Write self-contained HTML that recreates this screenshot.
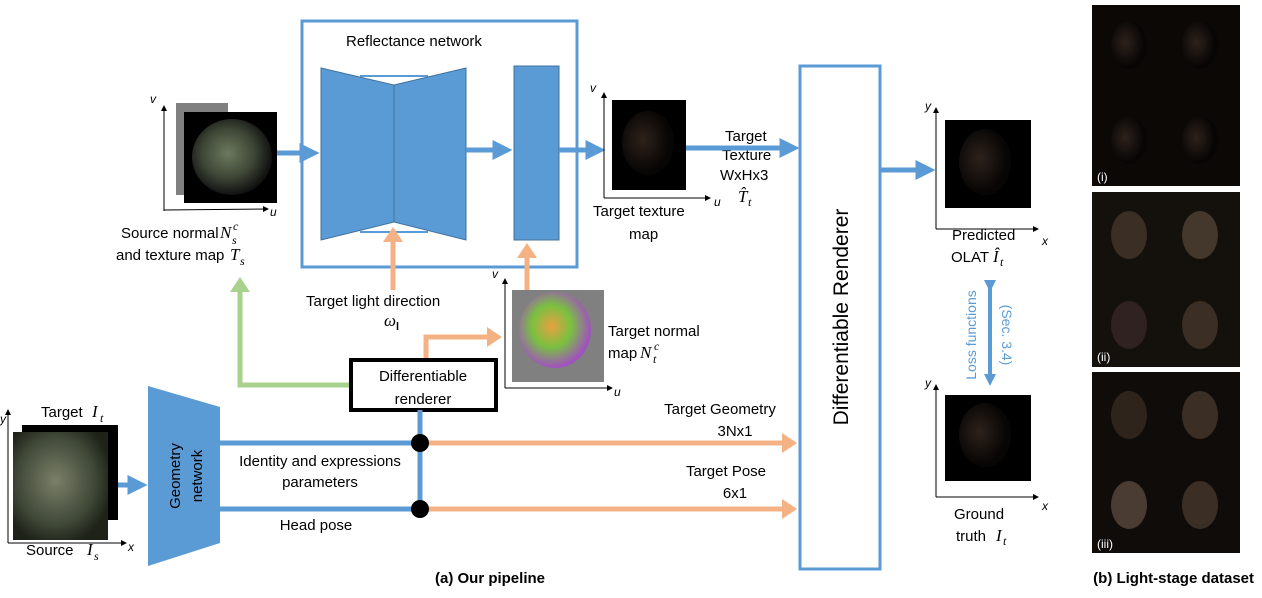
<!DOCTYPE html>
<html><head><meta charset="utf-8"><style>
html,body{margin:0;padding:0;background:#fff;}
svg text{font-family:"Liberation Sans",sans-serif;font-size:14px;fill:#000;}
.it{font-family:"Liberation Serif",serif;font-style:italic;font-size:17px;}
</style></head><body>
<svg width="1262" height="593" viewBox="0 0 1262 593" xmlns="http://www.w3.org/2000/svg">
<defs>
<radialGradient id="face" cx="45%" cy="45%" r="55%"><stop offset="0" stop-color="#6d7a5e"/><stop offset="0.6" stop-color="#3d4535"/><stop offset="1" stop-color="#111"/></radialGradient>
<radialGradient id="dark" cx="40%" cy="45%" r="50%"><stop offset="0" stop-color="#2e221b"/><stop offset="1" stop-color="#080605"/></radialGradient>
<radialGradient id="nrm" cx="45%" cy="45%" r="55%"><stop offset="0" stop-color="#e8a040"/><stop offset="0.5" stop-color="#7ac040"/><stop offset="1" stop-color="#a050c0"/></radialGradient>
<radialGradient id="src" cx="45%" cy="45%" r="60%"><stop offset="0" stop-color="#7a8068"/><stop offset="0.7" stop-color="#3e4636"/><stop offset="1" stop-color="#1e2218"/></radialGradient>
<marker id="ab" markerWidth="4" markerHeight="4" refX="2.5" refY="2" orient="auto"><path d="M0,0 L4,2 L0,4z" fill="#5b9bd5"/></marker>
<marker id="ab2" markerWidth="3" markerHeight="3" refX="1.5" refY="1.5" orient="auto"><path d="M0,0 L3,1.5 L0,3z" fill="#5b9bd5"/></marker>
<marker id="ao" markerWidth="3" markerHeight="4" refX="2" refY="2" orient="auto"><path d="M0,0 L3,2 L0,4z" fill="#f4b183"/></marker>
<marker id="ag" markerWidth="3" markerHeight="4" refX="2" refY="2" orient="auto"><path d="M0,0 L3,2 L0,4z" fill="#a9d18e"/></marker>
<marker id="ak" markerWidth="6" markerHeight="6" refX="5" refY="3" orient="auto"><path d="M0,0 L6,3 L0,6z" fill="#000"/></marker>
</defs>

<rect x="302" y="21" width="275" height="246" fill="none" stroke="#5b9bd5" stroke-width="3"/>
<text x="346" y="46" style="font-size:15px">Reflectance network</text>
<line x1="360" y1="76" x2="428" y2="76" stroke="#5b9bd5" stroke-width="2"/>
<line x1="360" y1="232" x2="428" y2="232" stroke="#5b9bd5" stroke-width="2"/>
<polygon points="321,68 394,85 394,222 321,240" fill="#5b9bd5" stroke="#41719c" stroke-width="1"/>
<polygon points="394,85 466,68 466,240 394,222" fill="#5b9bd5" stroke="#41719c" stroke-width="1"/>
<rect x="514" y="66" width="45" height="174" fill="#5b9bd5" stroke="#41719c" stroke-width="1"/>

<rect x="176" y="103" width="52" height="92" fill="#808080"/>
<rect x="184" y="112" width="93" height="91" fill="#000"/>
<ellipse cx="232" cy="157" rx="40" ry="38" fill="url(#face)"/>
<line x1="164" y1="211" x2="164" y2="106" stroke="#000" marker-end="url(#ak)"/>
<line x1="164" y1="210" x2="268" y2="209" stroke="#000" marker-end="url(#ak)"/>
<text x="150" y="103" style="font-size:12px;font-style:italic">v</text>
<text x="270" y="216" style="font-size:12px;font-style:italic">u</text>
<text x="121" y="238" style="font-size:15px">Source normal</text><text x="220" y="238" class="it">N</text><text x="233" y="230" class="it" style="font-size:12px">c</text><text x="232" y="244" class="it" style="font-size:12px">s</text>
<text x="116" y="260" style="font-size:15px">and texture map</text><text x="230" y="260" class="it">T</text><text x="240" y="265" class="it" style="font-size:12px">s</text>

<line x1="277" y1="153" x2="312" y2="153" stroke="#5b9bd5" stroke-width="5" marker-end="url(#ab)"/>
<line x1="466" y1="150" x2="505" y2="150" stroke="#5b9bd5" stroke-width="5" marker-end="url(#ab)"/>
<line x1="559" y1="150" x2="598" y2="150" stroke="#5b9bd5" stroke-width="5" marker-end="url(#ab)"/>

<rect x="612" y="100" width="74" height="90" fill="#000"/>
<ellipse cx="648" cy="143" rx="26" ry="32" fill="url(#dark)"/>
<line x1="604" y1="198" x2="604" y2="93" stroke="#000" marker-end="url(#ak)"/>
<line x1="604" y1="198" x2="710" y2="198" stroke="#000" marker-end="url(#ak)"/>
<text x="590" y="92" style="font-size:12px;font-style:italic">v</text>
<text x="714" y="206" style="font-size:12px;font-style:italic">u</text>
<text x="593" y="216" style="font-size:15px">Target texture</text>
<text x="629" y="239" style="font-size:15px">map</text>
<text x="725" y="141" style="font-size:15px">Target</text>
<text x="722" y="160" style="font-size:15px">Texture</text>
<text x="720" y="180" style="font-size:15px">WxHx3</text>
<text x="738" y="202" class="it">T̂</text><text x="748" y="206" class="it" style="font-size:12px">t</text>
<line x1="686" y1="148" x2="792" y2="148" stroke="#5b9bd5" stroke-width="5" marker-end="url(#ab)"/>

<rect x="800" y="66" width="80" height="503" fill="#fff" stroke="#5b9bd5" stroke-width="3"/>
<text transform="translate(848,317) rotate(-90)" text-anchor="middle" style="font-size:21px">Differentiable Renderer</text>
<line x1="880" y1="170" x2="928" y2="170" stroke="#5b9bd5" stroke-width="5" marker-end="url(#ab)"/>

<rect x="945" y="120" width="86" height="88" fill="#000"/>
<ellipse cx="985" cy="162" rx="26" ry="33" fill="url(#dark)"/>
<line x1="936" y1="229" x2="936" y2="108" stroke="#000" marker-end="url(#ak)"/>
<line x1="936" y1="229" x2="1038" y2="229" stroke="#000" marker-end="url(#ak)"/>
<text x="925" y="110" style="font-size:12px;font-style:italic">y</text>
<text x="1042" y="245" style="font-size:12px;font-style:italic">x</text>
<text x="952" y="240" style="font-size:15px">Predicted</text>
<text x="951" y="262" style="font-size:15px">OLAT</text><text x="993" y="262" class="it">Î</text><text x="1000" y="266" class="it" style="font-size:12px">t</text>

<line x1="990" y1="286" x2="990" y2="380" stroke="#5b9bd5" stroke-width="4" marker-start="url(#ab2)" marker-end="url(#ab2)"/>
<text transform="translate(976,335) rotate(-90)" text-anchor="middle" style="fill:#5b9bd5;font-size:14px">Loss functions</text>
<text transform="translate(1002,335) rotate(90)" text-anchor="middle" style="fill:#5b9bd5;font-size:14px">(Sec. 3.4)</text>

<rect x="945" y="395" width="86" height="86" fill="#000"/>
<ellipse cx="985" cy="435" rx="26" ry="32" fill="url(#dark)"/>
<line x1="936" y1="497" x2="936" y2="385" stroke="#000" marker-end="url(#ak)"/>
<line x1="936" y1="497" x2="1038" y2="497" stroke="#000" marker-end="url(#ak)"/>
<text x="925" y="387" style="font-size:12px;font-style:italic">y</text>
<text x="1042" y="510" style="font-size:12px;font-style:italic">x</text>
<text x="954" y="519" style="font-size:15px">Ground</text>
<text x="956" y="541" style="font-size:15px">truth</text><text x="996" y="541" class="it">I</text><text x="1003" y="545" class="it" style="font-size:12px">t</text>

<g>
<rect x="1092" y="5" width="148" height="181" fill="#0b0806"/>
<rect x="1092" y="192" width="148" height="175" fill="#14100c"/>
<rect x="1092" y="372" width="148" height="181" fill="#0f0c09"/>
<ellipse cx="1129" cy="45" rx="18" ry="24" fill="url(#dark)"/><ellipse cx="1200" cy="45" rx="18" ry="24" fill="url(#dark)"/>
<ellipse cx="1129" cy="140" rx="18" ry="24" fill="url(#dark)"/><ellipse cx="1200" cy="140" rx="18" ry="24" fill="url(#dark)"/>
<ellipse cx="1129" cy="235" rx="18" ry="24" fill="#3a2e25"/><ellipse cx="1200" cy="235" rx="18" ry="24" fill="#44382c"/>
<ellipse cx="1129" cy="325" rx="18" ry="24" fill="#302220"/><ellipse cx="1200" cy="325" rx="18" ry="24" fill="#3a2e25"/>
<ellipse cx="1129" cy="415" rx="18" ry="24" fill="#2e241c"/><ellipse cx="1200" cy="415" rx="18" ry="24" fill="#3a2e25"/>
<ellipse cx="1129" cy="505" rx="18" ry="24" fill="#4a3c32"/><ellipse cx="1200" cy="505" rx="18" ry="24" fill="#3a2e25"/>
<text x="1097" y="181" style="fill:#fff;font-size:12px">(i)</text>
<text x="1097" y="361" style="fill:#fff;font-size:12px">(ii)</text>
<text x="1097" y="548" style="fill:#fff;font-size:12px">(iii)</text>
</g>

<line x1="393" y1="290" x2="393" y2="232" stroke="#f4b183" stroke-width="5" marker-end="url(#ao)"/>
<line x1="527" y1="290" x2="527" y2="248" stroke="#f4b183" stroke-width="5" marker-end="url(#ao)"/>
<text x="306" y="306" style="font-size:15px">Target light direction</text>
<text x="384" y="326" class="it">ω</text><text x="396" y="330" style="font-size:11px;font-weight:bold">l</text>
<polyline points="350,385 240,385 240,282" fill="none" stroke="#a9d18e" stroke-width="5" marker-end="url(#ag)"/>
<polyline points="426,358 426,337 497,337" fill="none" stroke="#f4b183" stroke-width="5" marker-end="url(#ao)"/>

<rect x="512" y="290" width="92" height="92" fill="#808080"/>
<ellipse cx="555" cy="330" rx="36" ry="38" fill="url(#nrm)"/>
<line x1="505" y1="388" x2="505" y2="279" stroke="#000" marker-end="url(#ak)"/>
<line x1="505" y1="388" x2="612" y2="388" stroke="#000" marker-end="url(#ak)"/>
<text x="492" y="278" style="font-size:12px;font-style:italic">v</text>
<text x="614" y="396" style="font-size:12px;font-style:italic">u</text>
<text x="608" y="336" style="font-size:15px">Target normal</text>
<text x="608" y="358" style="font-size:15px">map</text><text x="640" y="358" class="it">N</text><text x="654" y="350" class="it" style="font-size:12px">c</text><text x="653" y="363" class="it" style="font-size:12px">t</text>

<rect x="351" y="360" width="145" height="50" fill="#fff" stroke="#000" stroke-width="4"/>
<text x="423" y="381" text-anchor="middle" style="font-size:15px">Differentiable</text>
<text x="423" y="404" text-anchor="middle" style="font-size:15px">renderer</text>

<line x1="8" y1="543" x2="8" y2="410" stroke="#000" marker-end="url(#ak)"/>
<line x1="8" y1="543" x2="126" y2="543" stroke="#000" marker-end="url(#ak)"/>
<text x="0" y="423" style="font-size:12px;font-style:italic">y</text>
<text x="128" y="551" style="font-size:12px;font-style:italic">x</text>
<rect x="22" y="425" width="96" height="95" fill="#000"/>
<rect x="13" y="432" width="95" height="108" fill="url(#src)"/>
<text x="41" y="417" style="font-size:15px">Target</text><text x="92" y="417" class="it">I</text><text x="100" y="422" class="it" style="font-size:12px">t</text>
<text x="26" y="555" style="font-size:15px">Source</text><text x="87" y="555" class="it">I</text><text x="94" y="560" class="it" style="font-size:12px">s</text>
<line x1="118" y1="485" x2="140" y2="485" stroke="#5b9bd5" stroke-width="5" marker-end="url(#ab)"/>

<polygon points="148,386 220,407 220,543 148,566" fill="#5b9bd5"/>
<text transform="translate(180,476) rotate(-90)" text-anchor="middle" style="fill:#000;font-size:15px">Geometry</text>
<text transform="translate(202,476) rotate(-90)" text-anchor="middle" style="fill:#000;font-size:15px">network</text>

<line x1="220" y1="443" x2="420" y2="443" stroke="#5b9bd5" stroke-width="5"/>
<line x1="220" y1="509" x2="420" y2="509" stroke="#5b9bd5" stroke-width="5"/>
<line x1="420" y1="410" x2="420" y2="509" stroke="#5b9bd5" stroke-width="5"/>
<line x1="428" y1="443" x2="792" y2="443" stroke="#f4b183" stroke-width="5" marker-end="url(#ao)"/>
<line x1="428" y1="509" x2="792" y2="509" stroke="#f4b183" stroke-width="5" marker-end="url(#ao)"/>
<circle cx="420" cy="443" r="9" fill="#000"/>
<circle cx="420" cy="509" r="9" fill="#000"/>
<text x="320" y="466" text-anchor="middle" style="font-size:15px">Identity and expressions</text>
<text x="320" y="487" text-anchor="middle" style="font-size:15px">parameters</text>
<text x="316" y="530" text-anchor="middle" style="font-size:15px">Head pose</text>
<text x="720" y="414" text-anchor="middle" style="font-size:15px">Target Geometry</text>
<text x="735" y="436" text-anchor="middle" style="font-size:15px">3Nx1</text>
<text x="726" y="476" text-anchor="middle" style="font-size:15px">Target Pose</text>
<text x="735" y="498" text-anchor="middle" style="font-size:15px">6x1</text>

<text x="490" y="583" text-anchor="middle" style="font-weight:bold;font-size:15px">(a) Our pipeline</text>
<text x="1254" y="583" text-anchor="end" style="font-weight:bold;font-size:15px">(b) Light-stage dataset</text>
</svg>
</body></html>
